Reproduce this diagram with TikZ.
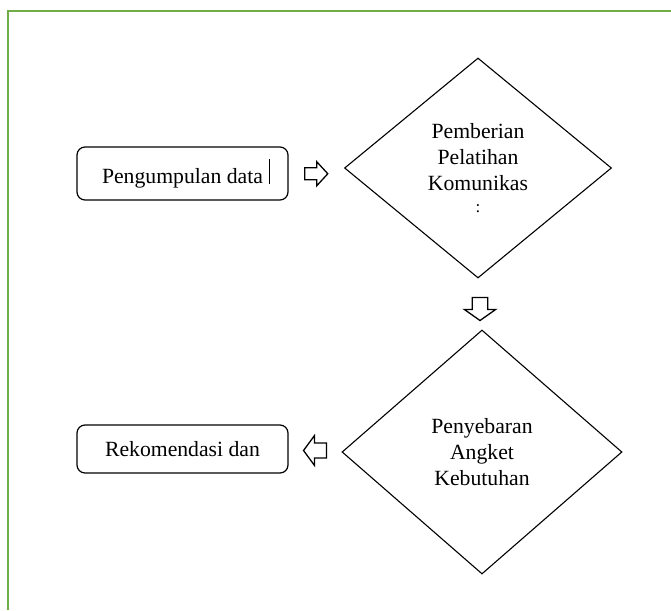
\documentclass[tikz,border=0pt]{standalone}
\usepackage{fontspec}
\setmainfont{Liberation Serif}
\usepackage{tikz}
\usetikzlibrary{shapes.geometric, positioning, calc}
\definecolor{framegreen}{RGB}{112,173,71}

\begin{document}
\begin{tikzpicture}[
    x=1pt, y=-1pt,
    every node/.style={font=\fontsize{21.7}{26}\selectfont},
    stepbox/.style={rectangle, draw=black, line width=1.2pt, rounded corners=8pt, align=center, minimum width=211pt, inner sep=0pt},
    decision/.style={diamond, draw=black, line width=1.1pt, align=center, inner sep=0pt},
    openarrow/.pic={\draw[line width=1.3pt, line join=miter]
        (-11.5,-6) -- (0.5,-6) -- (0.5,-12) -- (11.5,0) -- (0.5,12) -- (0.5,6) -- (-11.5,6) -- cycle;}
]
\useasboundingbox (0,0) rectangle (671,610);
% frame, only top and left edge inside the page
\draw[framegreen, line width=1.8pt] (8,610) |- (671,11);

\node[stepbox, minimum height=53pt] (collect) at (182.5,173.5)
    {Pengumpulan data\rlap{\hspace{6pt}\rule[-1pt]{0.7pt}{25pt}}};
\node[decision, minimum width=267pt, minimum height=220pt] (training) at (478,168)
    {Pemberian\\Pelatihan\\Komunikas\\[-4pt]{\fontsize{17}{17}\selectfont :}};
\node[decision, minimum width=280pt, minimum height=244pt] (survey) at (482,452)
    {Penyebaran\\Angket\\Kebutuhan};
\node[stepbox, minimum height=48pt] (advice) at (182.5,449) {Rekomendasi dan};

% open block arrows between the steps
\pic at ($(collect.east)!0.5!(training.west)+(0,3)$) {openarrow};
\pic[rotate=-90, yscale=1.3] at ($(training.south)!0.5!(survey.north)+(0,5)$) {openarrow};
\pic[rotate=180, yscale=1.25] at ($(advice.east)!0.5!(survey.west)$) {openarrow};
\end{tikzpicture}
\end{document}
